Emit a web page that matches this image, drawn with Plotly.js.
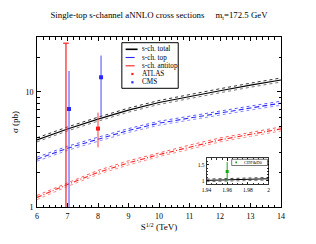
<!DOCTYPE html>
<html><head><meta charset="utf-8">
<script src="https://cdn.plot.ly/plotly-3.0.1.min.js"></script>
<style>html,body{margin:0;padding:0;background:#fff;}#c{width:316px;height:244px;}</style>
</head><body><div id="c"></div>
<script>
// ---- data ----
const energy = [6, 7, 8, 9, 10, 11, 12, 13, 14];
const totalXs    = [3.83, 4.77, 5.80, 6.95, 8.10, 9.15, 10.25, 11.45, 12.70];
const totalXsHi  = [3.99, 4.96, 6.03, 7.23, 8.42, 9.52, 10.66, 11.91, 13.21];
const totalXsLo  = [3.68, 4.58, 5.57, 6.67, 7.78, 8.78, 9.84, 10.99, 12.19];
const topXs      = [2.60, 3.24, 3.88, 4.62, 5.35, 5.95, 6.55, 7.25, 7.98];
const topXsHi    = [2.71, 3.37, 4.04, 4.80, 5.56, 6.19, 6.81, 7.54, 8.30];
const topXsLo    = [2.50, 3.11, 3.72, 4.44, 5.14, 5.71, 6.29, 6.96, 7.66];
const antiXs     = [1.21, 1.57, 2.00, 2.42, 2.85, 3.32, 3.83, 4.28, 4.77];
const antiXsHi   = [1.26, 1.63, 2.08, 2.52, 2.96, 3.45, 3.98, 4.45, 4.96];
const antiXsLo   = [1.16, 1.51, 1.92, 2.32, 2.74, 3.19, 3.68, 4.11, 4.58];

const atlasX = [8.0];
const atlasY = [4.8];
const atlasErrUp = [1.8];
const atlasErrDn = [1.5];
const atlasLimitX = [6.95];
const atlasLimitY = [26.5];

const cmsX = [7.05, 8.1];
const cmsY = [7.1, 13.4];
const cmsErr = [8.1, 7.3];

const tevX = [1.94, 1.96, 1.98, 2.0];
const tevTheory   = [1.01, 1.03, 1.045, 1.06];
const tevTheoryHi = [1.05, 1.07, 1.085, 1.10];
const tevTheoryLo = [0.97, 0.99, 1.005, 1.02];
const tevDataX = [1.96];
const tevDataY = [1.29];
const tevErrUp = [0.30];
const tevErrDn = [0.29];

const legendLabels = ['s-ch. total', 's-ch. top', 's-ch. antitop', 'ATLAS', 'CMS'];

// ---- styling ----
const FONT = 'Liberation Serif, Times New Roman, serif';
const RED = 'rgb(255,30,30)', BLUE = 'rgb(40,40,255)', GREEN = 'rgb(20,170,20)';

function band(x, y, color, xa, ya) {
  return {x: x, y: y, mode: 'lines', line: {color: color, width: 1, dash: 'dot'},
          hoverinfo: 'skip', showlegend: false, xaxis: xa || 'x', yaxis: ya || 'y'};
}

const traces = [
  band(energy, totalXsHi, '#333'), band(energy, totalXsLo, '#777'),
  band(energy, topXsHi, 'rgb(90,90,255)'), band(energy, topXsLo, 'rgb(140,140,255)'),
  band(energy, antiXsHi, 'rgb(255,90,90)'), band(energy, antiXsLo, 'rgb(255,140,140)'),
  {x: energy, y: totalXs, mode: 'lines', line: {color: '#000', width: 1.1}, showlegend: false},
  {x: energy, y: topXs, mode: 'lines', line: {color: BLUE, width: 1.1, dash: '5px,3px'}, showlegend: false},
  {x: energy, y: antiXs, mode: 'lines', line: {color: RED, width: 1.1, dash: '5px,2px,1px,2px'}, showlegend: false},
  {x: atlasLimitX, y: atlasLimitY, mode: 'markers', marker: {color: RED, size: 4, symbol: 'line-ew-open', line: {color: RED, width: 1.2}},
   error_y: {type: 'data', symmetric: false, array: [0], arrayminus: atlasLimitY, color: RED, thickness: 1.2, width: 0},
   showlegend: false},
  {x: atlasX, y: atlasY, mode: 'markers', marker: {color: RED, size: 4, symbol: 'square'},
   error_y: {type: 'data', symmetric: false, array: atlasErrUp, arrayminus: atlasErrDn, color: 'rgb(255,60,60)', thickness: 1, width: 0},
   showlegend: false},
  {x: cmsX, y: cmsY, mode: 'markers', marker: {color: BLUE, size: 4, symbol: 'square'},
   error_y: {type: 'data', array: cmsErr, color: 'rgb(70,70,255)', thickness: 1, width: 0},
   showlegend: false},
  // inset
  band(tevX, tevTheoryHi, '#444', 'x2', 'y2'), band(tevX, tevTheoryLo, '#777', 'x2', 'y2'),
  {x: tevX, y: tevTheory, mode: 'lines', line: {color: '#000', width: 1}, xaxis: 'x2', yaxis: 'y2', showlegend: false},
  {x: tevDataX, y: tevDataY, mode: 'markers', marker: {color: GREEN, size: 3, symbol: 'square'},
   error_y: {type: 'data', symmetric: false, array: tevErrUp, arrayminus: tevErrDn, color: GREEN, thickness: 1, width: 0},
   xaxis: 'x2', yaxis: 'y2', showlegend: false}
];

// ---- hand-drawn legends (paper coords) ----
const L = 36.5, R = 281.5, T = 37, B = 207;
const px = v => (v - L) / (R - L);
const py = v => (B - v) / (B - T);
const shapes = [
  {type: 'rect', xref: 'paper', yref: 'paper', x0: px(121.7), x1: px(178.3), y0: py(88.3), y1: py(42.7),
   line: {color: '#000', width: 1}, fillcolor: '#fff', layer: 'above'},
  {type: 'rect', xref: 'paper', yref: 'paper', x0: px(232), x1: px(268), y0: py(165.5), y1: py(159.3),
   line: {color: '#555', width: 0.8}, fillcolor: '#fff', layer: 'above'}
];
const annotations = [];
const rowY = [49.3, 57.5, 65.8, 74.0, 82.3];
const sampleStyles = [
  {color: '#000', dash: 'solid', w: 1.6},
  {color: BLUE, dash: 'dash', w: 1.1},
  {color: RED, dash: 'dashdot', w: 1.1}
];
for (let i = 0; i < 3; i++) {
  shapes.push({type: 'line', xref: 'paper', yref: 'paper', x0: px(125.5), x1: px(137.5), y0: py(rowY[i]), y1: py(rowY[i]),
    line: {color: sampleStyles[i].color, width: sampleStyles[i].w, dash: sampleStyles[i].dash}, layer: 'above'});
}
const mcol = [RED, BLUE];
for (let i = 3; i < 5; i++) {
  shapes.push({type: 'rect', xref: 'paper', yref: 'paper', x0: px(131.2), x1: px(133.4), y0: py(rowY[i] + 1.1), y1: py(rowY[i] - 1.1),
    line: {width: 0}, fillcolor: mcol[i - 3], layer: 'above'});
}
for (let i = 0; i < 5; i++) {
  annotations.push({xref: 'paper', yref: 'paper', x: px(140), y: py(rowY[i]), xanchor: 'left', yanchor: 'middle',
    text: legendLabels[i], showarrow: false, font: {family: FONT, size: 7.2, color: '#000'}});
}
shapes.push({type: 'rect', xref: 'paper', yref: 'paper', x0: px(235.6), x1: px(237.3), y0: py(163.2), y1: py(161.5),
  line: {width: 0}, fillcolor: GREEN, layer: 'above'});
annotations.push({xref: 'paper', yref: 'paper', x: px(242), y: py(162.4), xanchor: 'left', yanchor: 'middle',
  text: 'CDF&amp;D0', showarrow: false, font: {family: FONT, size: 4.5, color: '#000'}});

const axBase = {showline: true, linecolor: '#000', linewidth: 1, mirror: 'allticks', ticks: 'inside',
  tickcolor: '#000', showgrid: false, zeroline: false};

const layout = {
  width: 316, height: 244,
  margin: {l: L, r: 316 - R, t: T, b: 244 - B, pad: 0},
  paper_bgcolor: '#fff', plot_bgcolor: '#fff',
  font: {family: FONT, color: '#000', size: 8},
  showlegend: false,
  title: {text: 'Single-top s-channel aNNLO cross sections\u00a0\u00a0\u00a0\u00a0\u00a0m<sub>t</sub>=172.5 GeV',
    font: {family: FONT, size: 8.8, color: '#000'}, x: 0.5, xanchor: 'center', xref: 'paper',
    y: (244 - 15) / 244, yref: 'container', yanchor: 'middle'},
  xaxis: Object.assign({}, axBase, {range: [6, 14], dtick: 1, tick0: 6, ticklen: 4, tickwidth: 1,
    minor: {dtick: 0.2, ticks: 'inside', ticklen: 2.5, tickcolor: '#000', tickwidth: 1},
    tickfont: {family: FONT, size: 8}, ticklabelstandoff: 1,
    title: {text: 'S<sup>1/2</sup> (TeV)', font: {family: FONT, size: 9}, standoff: 4}}),
  yaxis: Object.assign({}, axBase, {type: 'log', range: [0, Math.log10(30)], tickvals: [1, 10], ticktext: ['1', '10'],
    ticklen: 4, tickwidth: 1,
    minor: {tickvals: [2, 3, 4, 5, 6, 7, 8, 9, 20, 30], ticks: 'inside', ticklen: 2.5, tickcolor: '#000', tickwidth: 1},
    tickfont: {family: FONT, size: 8}, ticklabelstandoff: 1,
    title: {text: '\u03c3 (pb)', font: {family: FONT, size: 9}, standoff: 5}}),
  xaxis2: Object.assign({}, axBase, {domain: [px(206.7), px(269)], anchor: 'y2', range: [1.94, 2.0],
    tickvals: [1.94, 1.96, 1.98, 2.0], ticktext: ['1.94', '1.96', '1.98', '2'], ticklen: 2.5, tickwidth: 0.8,
    minor: {dtick: 0.005, ticks: 'inside', ticklen: 1.5, tickcolor: '#000', tickwidth: 0.8},
    tickfont: {family: FONT, size: 5.5}, ticklabelstandoff: 0, linewidth: 0.8}),
  yaxis2: Object.assign({}, axBase, {domain: [py(184.3), py(158.3)], anchor: 'x2', range: [0.885, 1.71],
    tickvals: [1, 1.5], ticktext: ['1', '1.5'], ticklen: 2.5, tickwidth: 0.8,
    minor: {dtick: 0.1, ticks: 'inside', ticklen: 1.5, tickcolor: '#000', tickwidth: 0.8},
    tickfont: {family: FONT, size: 5.5}, ticklabelstandoff: 0, linewidth: 0.8}),
  shapes: shapes,
  annotations: annotations
};

Plotly.newPlot('c', traces, layout, {staticPlot: true, displayModeBar: false});
</script>
</body></html>
